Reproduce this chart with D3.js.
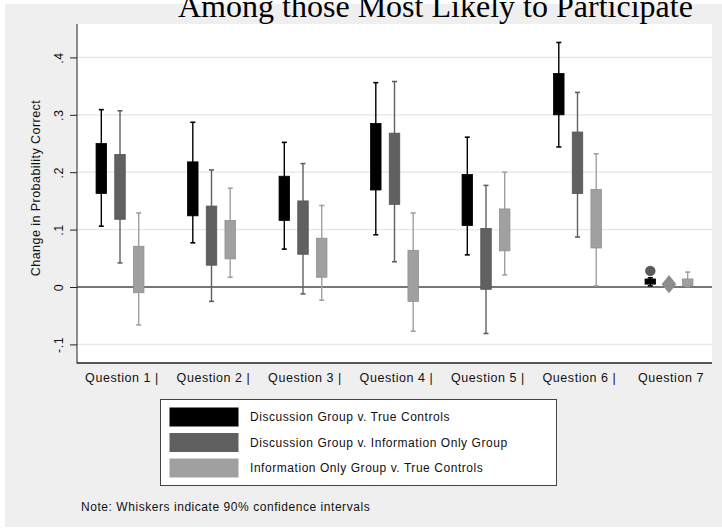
<!DOCTYPE html>
<meta charset="utf-8">
<script src="https://d3js.org/d3.v7.min.js"></script>
<style>
  body { margin: 0; background: #fff; }
  text { font-family: "Liberation Sans", Arial, sans-serif; }
</style>
<body>
<div id="chart"></div>
<script>
// questions on the x axis and the three comparisons
var questions = ["Question 1 |", "Question 2 |", "Question 3 |", "Question 4 |", "Question 5 |", "Question 6 |", "Question 7"];
var seriesNames = ["Discussion Group v. True Controls", "Discussion Group v. Information Only Group", "Information Only Group v. True Controls"];
var seriesColors = ["#000000", "#606060", "#a0a0a0"];

// [whisker low, box low, box high, whisker high] per question, null = no box
var discVsControl = [[0.106, 0.163, 0.250, 0.309], [0.077, 0.124, 0.218, 0.287], [0.066, 0.116, 0.193, 0.252],
  [0.091, 0.169, 0.285, 0.356], [0.056, 0.107, 0.196, 0.261], [0.244, 0.300, 0.372, 0.426], [0.002, 0.005, 0.014, 0.016]];
var discVsInfo = [[0.042, 0.118, 0.231, 0.307], [-0.025, 0.038, 0.141, 0.204], [-0.012, 0.057, 0.150, 0.215],
  [0.044, 0.144, 0.268, 0.358], [-0.081, -0.004, 0.102, 0.177], [0.087, 0.163, 0.270, 0.339], null];
var infoVsControl = [[-0.066, -0.010, 0.071, 0.129], [0.017, 0.049, 0.116, 0.172], [-0.023, 0.017, 0.085, 0.142],
  [-0.077, -0.025, 0.064, 0.129], [0.021, 0.063, 0.136, 0.200], [0.002, 0.068, 0.170, 0.232], [0.001, 0.002, 0.014, 0.026]];

// single markers drawn for Question 7
var q7Markers = [
  { series: 0, value: 0.028, shape: "circle", color: "#5a5a5a" },
  { series: 1, value: 0.005, shape: "diamond", color: "#8c8c8c" }
];

var yTicks = [-0.1, 0, 0.1, 0.2, 0.3, 0.4];
var yTickLabels = ["-.1", "0", ".1", ".2", ".3", ".4"];

var W = 722, H = 529;
var plot = { left: 77, right: 712, top: 24, bottom: 363 };

var svg = d3.select("#chart").append("svg")
  .attr("width", W).attr("height", H);

// gray background panel
svg.append("rect").attr("x", 5).attr("y", 4).attr("width", W - 5).attr("height", 523)
  .attr("fill", "#efefef");
svg.append("rect").attr("x", plot.left).attr("y", plot.top)
  .attr("width", plot.right - plot.left).attr("height", plot.bottom - plot.top)
  .attr("fill", "#ffffff");

var y = d3.scaleLinear().domain([-0.1324, 0.4582]).range([plot.bottom, plot.top]);
var x = d3.scalePoint().domain(questions).range([plot.left, plot.right]).padding(0.47);
var xs = d3.scalePoint().domain([0, 1, 2]).range([-18.7, 18.7]);

// grid lines
svg.append("g").selectAll("line").data(yTicks.filter(function(d) { return d !== 0; }))
  .enter().append("line")
  .attr("x1", plot.left).attr("x2", plot.right)
  .attr("y1", function(d) { return y(d); }).attr("y2", function(d) { return y(d); })
  .attr("stroke", "#e6e6e6").attr("stroke-width", 1.2);

// zero line
svg.append("line").attr("x1", plot.left).attr("x2", plot.right)
  .attr("y1", y(0)).attr("y2", y(0)).attr("stroke", "#4a4a4a").attr("stroke-width", 1.5);

// y axis
var yAxis = svg.append("g").attr("transform", "translate(" + plot.left + ",0)")
  .call(d3.axisLeft(y).tickValues(yTicks).tickSize(7).tickFormat(function(d, i) { return yTickLabels[i]; }));
yAxis.select(".domain").attr("stroke", "#222").attr("d", "M0," + (plot.top) + "V" + (plot.bottom + 0.5));
yAxis.selectAll(".tick line").attr("stroke", "#222");
yAxis.selectAll(".tick text")
  .attr("x", 0).attr("y", 0).attr("dy", null)
  .attr("transform", "translate(-18,0) rotate(-90)")
  .attr("text-anchor", "middle").attr("dominant-baseline", "central")
  .style("font-size", "12.5px").style("letter-spacing", "0.5px").attr("fill", "#111");

// x axis line
svg.append("line").attr("x1", plot.left).attr("x2", plot.right)
  .attr("y1", plot.bottom).attr("y2", plot.bottom).attr("stroke", "#222").attr("stroke-width", 1.3);

// x labels
svg.append("g").selectAll("text").data(questions).enter().append("text")
  .attr("x", function(d) { return x(d) + 2; }).attr("y", 381.5)
  .attr("text-anchor", "middle")
  .style("font-size", "12.5px").style("letter-spacing", "0.55px").attr("fill", "#111")
  .text(function(d) { return d; });

// y title
svg.append("text").attr("transform", "translate(40,188) rotate(-90)")
  .attr("text-anchor", "middle")
  .style("font-size", "12.5px").style("letter-spacing", "0.45px").attr("fill", "#111")
  .text("Change in Probability Correct");

// boxes and whiskers
var allSeries = [discVsControl, discVsInfo, infoVsControl];
var boxW = 10.5, capW = 5;
allSeries.forEach(function(vals, si) {
  var g = svg.append("g");
  var color = seriesColors[si];
  vals.forEach(function(v, qi) {
    if (!v) return;
    var cx = x(questions[qi]) + xs(si);
    g.append("line").attr("x1", cx).attr("x2", cx).attr("y1", y(v[0])).attr("y2", y(v[3]))
      .attr("stroke", color).attr("stroke-width", 1.4);
    [v[0], v[3]].forEach(function(w) {
      g.append("line").attr("x1", cx - capW / 2).attr("x2", cx + capW / 2)
        .attr("y1", y(w)).attr("y2", y(w)).attr("stroke", color).attr("stroke-width", 1.6);
    });
    g.append("rect").attr("x", cx - boxW / 2).attr("y", y(v[2]))
      .attr("width", boxW).attr("height", y(v[1]) - y(v[2]))
      .attr("fill", color).attr("stroke", d3.color(color).darker(0.3)).attr("stroke-width", 0.8);
  });
});

// question 7 markers
q7Markers.forEach(function(m) {
  var cx = x(questions[6]) + xs(m.series);
  var sym = m.shape === "circle" ? d3.symbolCircle : d3.symbolDiamond;
  var size = m.shape === "circle" ? 85 : 95;
  svg.append("path").attr("d", d3.symbol().type(sym).size(size)())
    .attr("transform", "translate(" + cx + "," + y(m.value) + ")" + (m.shape === "diamond" ? " scale(1.4,1)" : ""))
    .attr("fill", m.color);
});

// title (top slightly cut, as in the original)
var title = svg.append("text").attr("x", 178).attr("y", 17)
  .style("font-family", "'Liberation Serif', 'Times New Roman', serif")
  .style("font-size", "28px").attr("fill", "#000")
  .text("Among those Most Likely to Participate");
var tw = title.node().getComputedTextLength();
title.style("font-size", (28 * 515 / tw) + "px");

// legend
var legend = svg.append("g");
legend.append("rect").attr("x", 160.5).attr("y", 399.5).attr("width", 396).attr("height", 86)
  .attr("fill", "#fff").attr("stroke", "#444").attr("stroke-width", 1);
var rows = legend.selectAll("g.row").data(seriesNames).enter().append("g")
  .attr("transform", function(d, i) { return "translate(0," + (407.5 + i * 25.5) + ")"; });
rows.append("rect").attr("x", 169.5).attr("y", 0).attr("width", 69).attr("height", 19)
  .attr("fill", function(d, i) { return seriesColors[i]; });
rows.append("text").attr("x", 250).attr("y", 9.5).attr("dominant-baseline", "central")
  .style("font-size", "12px").style("letter-spacing", "0.55px").attr("fill", "#111")
  .text(function(d) { return d; });

// note
svg.append("text").attr("x", 81).attr("y", 511)
  .style("font-size", "12px").style("letter-spacing", "0.55px").attr("fill", "#111")
  .text("Note: Whiskers indicate 90% confidence intervals");
</script>
</body>
